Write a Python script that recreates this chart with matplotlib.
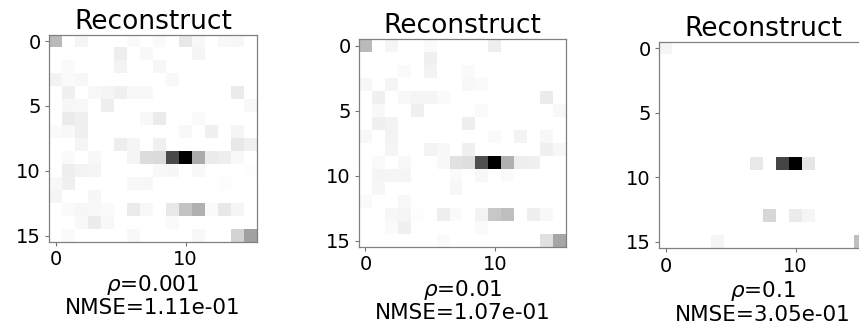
import numpy as np
import matplotlib
matplotlib.use("Agg")
import matplotlib.pyplot as plt

titles = ["Reconstruct", "Reconstruct", "Reconstruct"]
rhos = ["0.001", "0.01", "0.1"]
nmses = ["1.11e-01", "1.07e-01", "3.05e-01"]
xticks = [0, 10]
yticks = [0, 5, 10, 15]

recon_1 = [
    [.27, 0, .04, 0, 0, 0, .02, 0, .02, 0, .09, .03, 0, .03, .035, 0],
    [0, 0, 0, 0, 0, .067, 0, .03, 0, 0, 0, .04, 0, 0, 0, 0],
    [0, .02, 0, 0, 0, .05, 0, 0, .035, 0, 0, 0, 0, 0, 0, 0],
    [.05, .02, .035, 0, 0, 0, 0, 0, 0, .03, 0, 0, 0, 0, 0, 0],
    [0, .06, 0, .03, .04, .06, .03, .03, 0, 0, 0, 0, 0, 0, .08, 0],
    [0, .035, .03, 0, .067, 0, 0, 0, 0, 0, 0, 0, 0, 0, 0, .03],
    [0, .08, .06, 0, 0, 0, 0, .03, .08, 0, 0, .02, 0, 0, 0, 0],
    [.02, .03, .06, 0, 0, 0, 0, 0, 0, 0, .03, 0, .06, 0, .04, 0],
    [0, 0, .04, 0, 0, .067, .04, 0, .06, 0, 0, 0, 0, 0, .09, .06],
    [0, .02, 0, .03, 0, 0, .04, .14, .145, .71, 1, .33, .08, .067, .03, 0],
    [0, .067, .05, .04, 0, 0, 0, 0, .03, .035, 0, .03, 0, 0, 0, .01],
    [.03, .06, 0, 0, 0, 0, .03, .035, 0, 0, 0, 0, 0, .01, 0, 0],
    [.04, 0, 0, .035, 0, 0, 0, 0, 0, 0, 0, 0, 0, 0, 0, 0],
    [0, .02, .035, .03, .02, 0, .08, .03, 0, .09, .235, .31, .02, .09, .04, 0],
    [0, 0, .03, .075, .03, 0, 0, 0, 0, .02, 0, 0, 0, 0, 0, 0],
    [0, .02, 0, 0, 0, 0, .03, 0, 0, 0, 0, .03, 0, 0, .17, .37],
]

recon_2 = [
    [.27, 0, .04, 0, 0, .02, 0, 0, 0, 0, .067, 0, 0, 0, 0, 0],
    [0, 0, 0, 0, 0, .06, 0, 0, 0, 0, 0, 0, 0, 0, 0, 0],
    [0, 0, 0, .02, 0, .05, 0, 0, .02, 0, 0, 0, 0, 0, 0, 0],
    [.035, 0, .04, 0, 0, 0, 0, 0, .03, .02, 0, 0, 0, 0, 0, 0],
    [0, .06, 0, .03, .04, .04, .02, 0, 0, 0, 0, 0, 0, 0, .08, 0],
    [0, .03, 0, 0, .06, 0, 0, 0, 0, .02, 0, 0, 0, 0, 0, .03],
    [0, .06, .05, 0, 0, 0, 0, 0, .067, 0, 0, 0, 0, 0, 0, 0],
    [.03, 0, .05, 0, 0, 0, 0, 0, 0, 0, .02, 0, .05, 0, .03, 0],
    [0, 0, .04, 0, 0, .05, .03, 0, .06, 0, 0, 0, 0, 0, .06, .035],
    [0, .02, 0, .03, 0, 0, .03, .12, .13, .69, 1, .31, .067, .06, 0, 0],
    [0, .04, .04, .04, 0, 0, 0, .02, 0, .03, 0, .02, 0, 0, 0, 0],
    [0, .035, 0, 0, 0, 0, 0, .035, 0, 0, 0, 0, 0, 0, 0, 0],
    [.02, 0, 0, .03, 0, 0, 0, 0, 0, 0, 0, 0, 0, 0, 0, 0],
    [0, 0, .035, .04, .01, 0, .067, .02, 0, .05, .22, .25, 0, .067, .03, 0],
    [0, 0, .02, .06, 0, 0, 0, 0, 0, .02, 0, 0, 0, 0, 0, 0],
    [0, 0, 0, 0, 0, 0, .02, 0, 0, 0, 0, 0, 0, 0, .12, .35],
]

recon_3 = [
    [.04, 0, 0, 0, 0, 0, 0, 0, 0, 0, 0, 0, 0, 0, 0, 0],
    [0, 0, 0, 0, 0, 0, 0, 0, 0, 0, 0, 0, 0, 0, 0, 0],
    [0, 0, 0, 0, 0, 0, 0, 0, 0, 0, 0, 0, 0, 0, 0, 0],
    [0, 0, 0, 0, 0, 0, 0, 0, 0, 0, 0, 0, 0, 0, 0, 0],
    [0, 0, 0, 0, 0, 0, 0, 0, 0, 0, 0, 0, 0, 0, 0, 0],
    [0, 0, 0, 0, 0, 0, 0, 0, 0, 0, 0, 0, 0, 0, 0, 0],
    [0, 0, 0, 0, 0, 0, 0, 0, 0, 0, 0, 0, 0, 0, 0, 0],
    [0, 0, 0, 0, 0, 0, 0, 0, 0, 0, 0, 0, 0, 0, 0, 0],
    [0, 0, 0, 0, 0, 0, 0, 0, 0, 0, 0, 0, 0, 0, 0, 0],
    [0, 0, 0, 0, 0, 0, 0, .09, 0, .73, 1, .1, 0, 0, 0, 0],
    [0, 0, 0, 0, 0, 0, 0, 0, 0, 0, 0, 0, 0, 0, 0, 0],
    [0, 0, 0, 0, 0, 0, 0, 0, 0, 0, 0, 0, 0, 0, 0, 0],
    [0, 0, 0, 0, 0, 0, 0, 0, 0, 0, 0, 0, 0, 0, 0, 0],
    [0, 0, 0, 0, 0, 0, 0, 0, .16, 0, .08, .04, 0, 0, 0, 0],
    [0, 0, 0, 0, 0, 0, 0, 0, 0, 0, 0, 0, 0, 0, 0, 0],
    [0, 0, 0, 0, .04, 0, 0, 0, 0, 0, 0, 0, 0, 0, 0, .25],
]

W, H = 859, 325
fig = plt.figure(figsize=(W / 100, H / 100), dpi=100)

# pixel boxes: (left, top, width, height)
boxes = [(49, 34.7, 208, 207.3), (359, 39.3, 207, 207.7), (659, 41.7, 208, 206.5)]
data = [recon_1, recon_2, recon_3]

for i in range(3):
    l, t, w, h = boxes[i]
    ax = fig.add_axes([l / W, 1 - (t + h) / H, w / W, h / H])
    ax.imshow(np.array(data[i]), cmap="gray_r", vmin=0, vmax=1,
              interpolation="nearest", aspect="auto")
    ax.set_title(titles[i], fontsize=19, pad=4)
    ax.set_xticks(xticks)
    ax.set_yticks(yticks)
    ax.tick_params(labelsize=14, length=3, width=0.8, color="0.45", pad=3)
    for s in ax.spines.values():
        s.set_color("0.5")
        s.set_linewidth(0.9)
    ax.set_xlabel(r"$\rho$=" + rhos[i] + "\nNMSE=" + nmses[i], fontsize=15.5,
                  labelpad=2.5, linespacing=1.1)

fig.savefig("out.png", dpi=100)
